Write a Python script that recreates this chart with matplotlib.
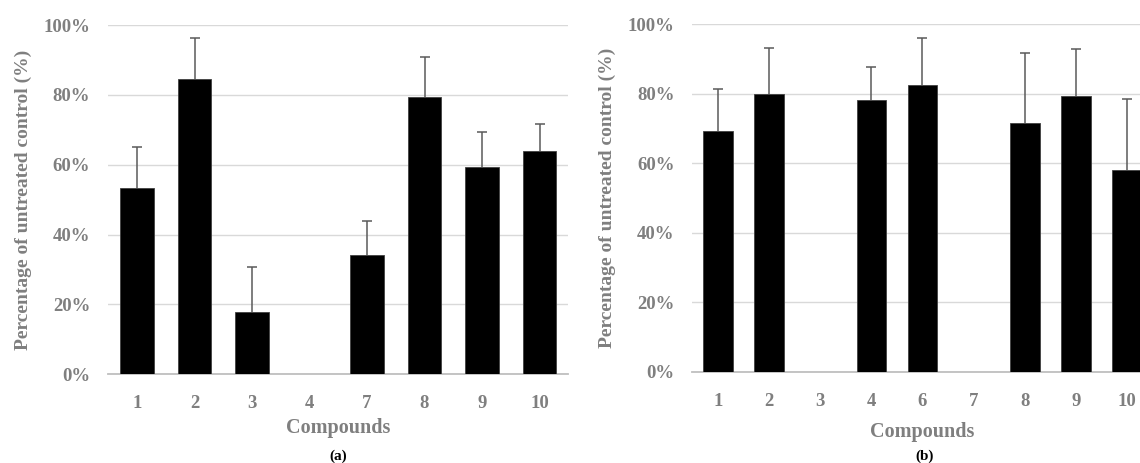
import numpy as np
import matplotlib
matplotlib.use('Agg')
import matplotlib.pyplot as plt
from matplotlib.ticker import PercentFormatter

# panel (a)
labels_a = ['1', '2', '3', '4', '7', '8', '9', '10']
values_a = [53.4, 84.4, 17.7, 0, 34.1, 79.3, 59.4, 64.0]
err_a = [11.7, 11.8, 12.9, 0, 9.7, 11.5, 10.0, 7.7]

# panel (b)
labels_b = ['1', '2', '3', '4', '6', '7', '8', '9', '10']
values_b = [69.2, 80.0, 0, 78.2, 82.4, 0, 71.6, 79.2, 58.0]
err_b = [12.0, 13.2, 0, 9.3, 13.6, 0, 20.2, 13.7, 20.4]

W, H = 1140, 463
grey = '#7f7f7f'
font = 'Liberation Serif'

fig = plt.figure(figsize=(W / 100, H / 100), dpi=100)


def draw_panel(rect, labels, values, errs, tag, tag_x, xlabel_pad):
    ax = fig.add_axes(rect)
    x = np.arange(len(labels))
    vals = np.array(values) / 100
    e = np.array(errs) / 100
    ax.bar(x, vals, width=0.58, color='black', edgecolor='#404040', linewidth=0.6, zorder=3)
    # upper error only, no cap at the bar top
    m = vals > 0
    ax.vlines(x[m], vals[m], vals[m] + e[m], color='#5a5a5a', linewidth=1.1, zorder=4)
    ax.plot(x[m], vals[m] + e[m], linestyle='none', marker='_', markersize=7,
            markeredgewidth=1.1, color='#5a5a5a', zorder=4)
    ax.set_xlim(-0.5, len(labels) - 0.5)
    ax.set_ylim(0, 1)
    ax.set_yticks(np.arange(0, 1.01, 0.2))
    ax.yaxis.set_major_formatter(PercentFormatter(1.0, decimals=0))
    ax.set_xticks(x)
    ax.set_xticklabels(labels)
    ax.grid(axis='y', color='#d9d9d9', linewidth=1.0, zorder=0)
    ax.set_axisbelow(True)
    for s in ['top', 'right', 'left']:
        ax.spines[s].set_visible(False)
    ax.spines['bottom'].set_color('#bfbfbf')
    ax.spines['bottom'].set_linewidth(1.3)
    ax.tick_params(axis='both', length=0, labelcolor=grey, labelsize=13.5)
    ax.tick_params(axis='x', pad=15)
    ax.tick_params(axis='y', pad=13)
    for t in ax.get_xticklabels() + ax.get_yticklabels():
        t.set_fontfamily(font)
        t.set_fontweight('bold')
    ax.set_ylabel('Percentage of untreated control (%)', fontsize=14, color=grey,
                  fontfamily=font, fontweight='bold', labelpad=8)
    ax.set_xlabel('Compounds', fontsize=14.5, color=grey, fontfamily=font,
                  fontweight='bold', labelpad=xlabel_pad)
    fig.text(tag_x, 1 - 456 / H, tag, ha='center', va='center', fontsize=11,
             fontfamily=font, fontweight='bold', color='black')
    return ax


ax1 = draw_panel([108.3 / W, (H - 374.3) / H, 460 / W, 349.3 / H],
                 labels_a, values_a, err_a, '(a)', 338 / W, 4)
ax2 = draw_panel([692.5 / W, (H - 371.7) / H, 460 / W, 347.7 / H],
                 labels_b, values_b, err_b, '(b)', 925 / W, 9)

fig.savefig('out.png', dpi=100)
